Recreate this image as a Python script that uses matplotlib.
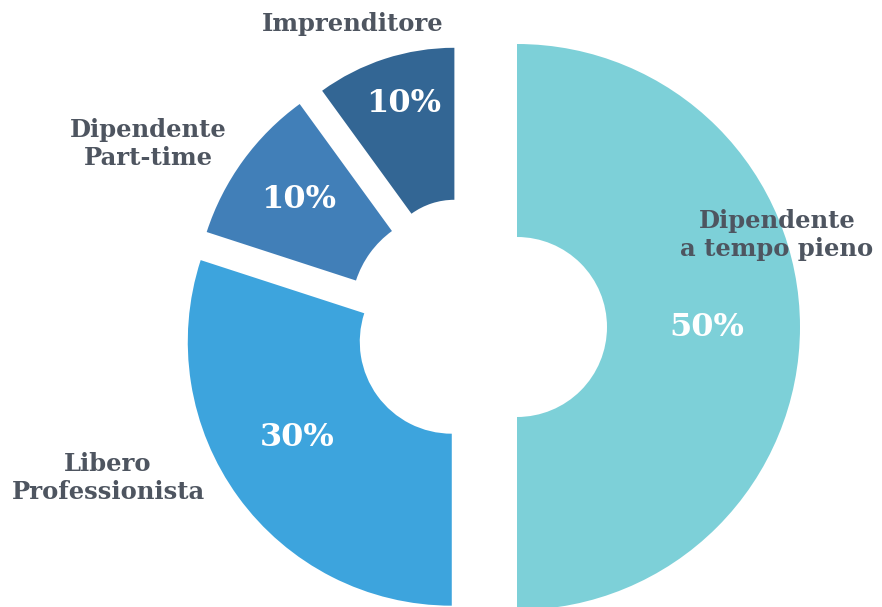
import matplotlib
matplotlib.use("Agg")
import matplotlib.pyplot as plt

# data
categories = ["Dipendente\na tempo pieno", "Libero\nProfessionista",
              "Dipendente\nPart-time", "Imprenditore"]
shares = [50, 30, 10, 10]
pct_labels = ["50%", "30%", "10%", "10%"]

colors = ["#7DD0D8", "#3DA4DD", "#417FB8", "#336694"]

W, H = 882, 607


def py(y):
    # image-style y (from top) -> axes y
    return H - y


fig = plt.figure(figsize=(W / 100, H / 100), dpi=100)
ax = fig.add_axes([0, 0, 1, 1])

center = (472, py(327))
explode = [45, 25, 27, 57]
outer = [283, 264, 256, 225]
inner = [90, 92, 99, 73]

wedges, _ = ax.pie(shares, colors=colors, startangle=90, counterclock=False,
                   center=center, radius=283, explode=explode,
                   wedgeprops=dict(width=190, linewidth=0))
for w, ro, ri in zip(wedges, outer, inner):
    w.set_radius(ro)
    w.set_width(ro - ri)

ax.set_xlim(0, W)
ax.set_ylim(0, H)
ax.set_aspect("equal")
ax.axis("off")

label_kw = dict(family="DejaVu Serif", weight="bold", color="#4E5560",
                ha="center", va="center", fontsize=17.5, linespacing=1.2)
label_pos = [(777, 235), (108, 478), (148, 144), (353, 24)]
for text, (x, y) in zip(categories, label_pos):
    ax.text(x, py(y), text, **label_kw)

pct_kw = dict(family="DejaVu Serif", weight="bold", color="white",
              ha="center", va="center", fontsize=23)
pct_pos = [(707, 327), (297, 438), (299, 200), (404, 103)]
for text, (x, y) in zip(pct_labels, pct_pos):
    ax.text(x, py(y), text, **pct_kw)

fig.savefig("out.png", dpi=100)
